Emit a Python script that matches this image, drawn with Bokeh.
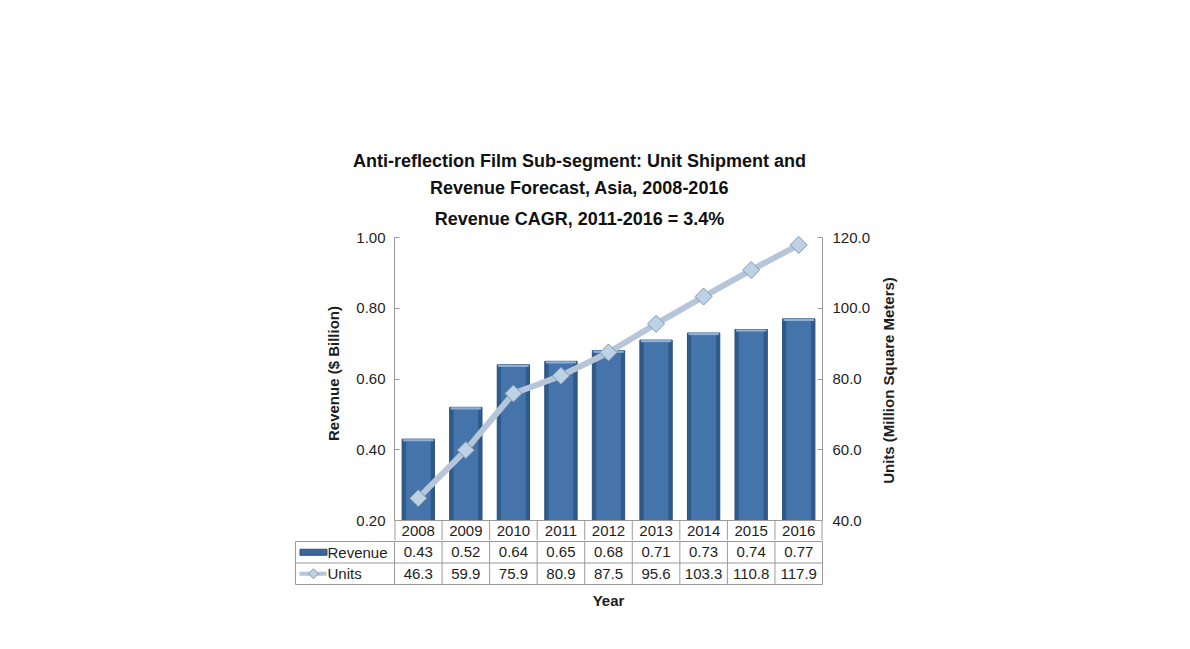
import math
from bokeh.plotting import figure
from bokeh.models import Range1d, LinearAxis, FixedTicker, NumeralTickFormatter
from bokeh.layouts import column, row
from bokeh.embed import file_html
from bokeh.resources import INLINE
from bokeh.core.properties import value

# ---------------- data ----------------
years = ["2008", "2009", "2010", "2011", "2012", "2013", "2014", "2015", "2016"]
revenue = [0.43, 0.52, 0.64, 0.65, 0.68, 0.71, 0.73, 0.74, 0.77]
units = [46.3, 59.9, 75.9, 80.9, 87.5, 95.6, 103.3, 110.8, 117.9]
rev_ticks = [0.20, 0.40, 0.60, 0.80, 1.00]
unit_ticks = [40, 60, 80, 100, 120]
series_names = ["Revenue", "Units"]
title_lines = ["Anti-reflection Film Sub-segment: Unit Shipment and",
               "Revenue Forecast, Asia, 2008-2016"]
subtitle = "Revenue CAGR, 2011-2016 = 3.4%"
x_title = "Year"
y_title_left = "Revenue ($ Billion)"
y_title_right = "Units (Million Square Meters)"

# ---------------- layout constants (px) ----------------
W, H = 1190, 649
MW = 878                   # width of the main column
TOPH = 200                 # height of the title strip
FL, FR = 394, 822          # plot frame left / right
PT = 206                   # top of main plot frame
FT, AXB = 237, 520         # top of value axis, bottom of value axis
YROW = 20                  # year row height
FB = AXB + YROW            # bottom of main figure
LEG = 99                   # legend column width in table
PAD = 2
ROWH = 21.5                # table row height
TX = 579                   # horizontal centre of the titles
FONT = "Liberation Sans"
FS = "15px"
GRID = "#9a9a9a"
TXT = "#1e1e1e"

n = len(years)
xs = [i + 0.5 for i in range(n)]
ppx = (FR - FL) / n
ppy = (AXB - FT) / (rev_ticks[-1] - rev_ticks[0])
ppu = (AXB - FT) / (unit_ticks[-1] - unit_ticks[0])
rev_lo = rev_ticks[0] - YROW / ppy
rev_hi = rev_ticks[-1] + (FT - PT) / ppy
u_lo = unit_ticks[0] - YROW / ppu
u_hi = unit_ticks[-1] + (FT - PT) / ppu

def blank(fig):
    for g in fig.grid:
        g.visible = False
    try:
        fig.frame_align = False
    except Exception:
        pass

# ---------------- title strip ----------------
tf = figure(width=MW, height=TOPH, x_range=Range1d(0, MW), y_range=Range1d(TOPH, 0),
            x_axis_location=None, y_axis_location=None,
            output_backend="svg", toolbar_location=None,
            min_border=0, outline_line_color=None,
            background_fill_color="white", border_fill_color="white")
blank(tf)
tf.text(x=[TX, TX], y=[160, 187], text=title_lines,
        text_align="center", text_baseline="middle", text_font=value(FONT),
        text_font_size="18px", text_font_style="bold", text_color="#111111")

# ---------------- main chart ----------------
p = figure(width=MW, height=FB - TOPH, x_range=Range1d(0, n),
           y_range=Range1d(rev_lo, rev_hi),
           x_axis_location=None, y_axis_location=None,
           output_backend="svg", toolbar_location=None,
           min_border_left=FL, min_border_right=MW - FR,
           min_border_top=PT - TOPH, min_border_bottom=0,
           outline_line_color=None, background_fill_color="white",
           border_fill_color="white")
blank(p)
p.extra_y_ranges = {"units": Range1d(u_lo, u_hi)}

def style_axis(ax):
    ax.axis_line_color = GRID
    ax.major_tick_line_color = GRID
    ax.major_tick_in = 5
    ax.major_tick_out = 0
    ax.minor_tick_line_color = None
    ax.major_label_text_font = FONT
    ax.major_label_text_font_size = FS
    ax.major_label_text_color = TXT
    ax.axis_label_text_font = FONT
    ax.axis_label_text_font_size = "15px"
    ax.axis_label_text_font_style = "bold"
    ax.axis_label_text_color = TXT

ya = LinearAxis(bounds=(rev_ticks[0], rev_ticks[-1]), ticker=FixedTicker(ticks=rev_ticks),
                formatter=NumeralTickFormatter(format="0.00"), axis_label=y_title_left)
style_axis(ya)
ya.major_label_standoff = 9
ya.axis_label_standoff = 11
p.add_layout(ya, "left")

yb = LinearAxis(y_range_name="units", bounds=(unit_ticks[0], unit_ticks[-1]),
                ticker=FixedTicker(ticks=unit_ticks),
                formatter=NumeralTickFormatter(format="0.0"))
style_axis(yb)
yb.major_label_standoff = 10
p.add_layout(yb, "right")

# subtitle (inside the frame area above the value axis)
p.text(x=[(TX - FL) / ppx], y=[rev_ticks[-1] + (FT - 218) / ppy], text=[subtitle],
       text_align="center", text_baseline="middle", text_font=value(FONT),
       text_font_size="18px", text_font_style="bold", text_color="#111111")

# bars with a little shading
p.vbar(x=xs, top=revenue, bottom=rev_ticks[0], width=0.68,
       fill_color="#2f5a8c", line_color="#2a4f7c", line_width=1)
p.vbar(x=xs, top=revenue, bottom=rev_ticks[0], width=0.52,
       fill_color="#4574ab", line_color=None)
p.vbar(x=xs, top=revenue, bottom=[r - 0.006 for r in revenue], width=0.64,
       fill_color="#8fb0d6", line_color=None)

# units line
p.line(x=xs, y=units, y_range_name="units", line_color="#b6c5d8", line_width=6)
p.scatter(x=xs, y=units, y_range_name="units", marker="square", angle=math.pi / 4,
          size=12, fill_color="#bed2e6", line_color="#8197b0", line_width=1)

# year row (top row of the data table)
p.segment(x0=[0], y0=[rev_ticks[0]], x1=[n], y1=[rev_ticks[0]], line_color=GRID, line_width=1)
p.segment(x0=list(range(1, n)), y0=[rev_lo] * (n - 1), x1=list(range(1, n)),
          y1=[rev_ticks[0]] * (n - 1), line_color=GRID, line_width=1)
p.segment(x0=[0, n], y0=[rev_lo, rev_lo], x1=[0, n], y1=[rev_ticks[0], rev_ticks[0]],
          line_color=GRID, line_width=2)
p.text(x=xs, y=[rev_ticks[0] - YROW / 2 / ppy] * n, text=years,
       text_align="center", text_baseline="middle", text_font=value(FONT),
       text_font_size=FS, text_color=TXT)

# ---------------- data table ----------------
TBH = H - FB
y_top = 2 + 1 / ROWH
tb = figure(width=MW, height=TBH,
            x_range=Range1d(-(LEG + PAD) / ppx, n + PAD / ppx),
            y_range=Range1d(y_top - TBH / ROWH, y_top),
            x_axis_location=None, y_axis_location=None,
            output_backend="svg", toolbar_location=None,
            min_border_left=FL - LEG - PAD, min_border_right=MW - FR - PAD,
            min_border_top=0, min_border_bottom=0,
            outline_line_color=None, background_fill_color="white",
            border_fill_color="white")
blank(tb)

xl = -LEG / ppx
tb.segment(x0=[xl] * 3, y0=[2, 1, 0], x1=[n] * 3, y1=[2, 1, 0], line_color=GRID, line_width=1)
vx = [xl] + list(range(0, n + 1))
tb.segment(x0=vx, y0=[0] * len(vx), x1=vx, y1=[2] * len(vx), line_color=GRID, line_width=1)

rev_txt = ["%.2f" % v for v in revenue]
unit_txt = ["%.1f" % v for v in units]
tb.text(x=xs, y=[1.5] * n, text=rev_txt, text_align="center", text_baseline="middle",
        text_font=value(FONT), text_font_size=FS, text_color=TXT)
tb.text(x=xs, y=[0.5] * n, text=unit_txt, text_align="center", text_baseline="middle",
        text_font=value(FONT), text_font_size=FS, text_color=TXT)

# legend keys
kx = (-LEG + 18) / ppx
tb.rect(x=[kx], y=[1.5], width=27, height=6, width_units="screen", height_units="screen",
        fill_color="#3b679c", line_color="#2a4f7c")
tb.segment(x0=[(-LEG + 4) / ppx], y0=[0.5], x1=[(-LEG + 31) / ppx], y1=[0.5],
           line_color="#b6c5d8", line_width=4)
tb.scatter(x=[kx], y=[0.5], marker="square", angle=math.pi / 4, size=7,
           fill_color="#bed2e6", line_color="#8197b0", line_width=1)
tb.text(x=[(-LEG + 32) / ppx] * 2, y=[1.5, 0.5], text=series_names, text_align="left",
        text_baseline="middle", text_font=value(FONT), text_font_size=FS, text_color=TXT)

# axis title "Year"
tb.text(x=[n / 2], y=[-(600 - 584) / ROWH], text=[x_title], text_align="center",
        text_baseline="middle", text_font=value(FONT), text_font_size="15px",
        text_font_style="bold", text_color=TXT)

# ---------------- right axis title strip ----------------
RW = W - MW
rf = figure(width=RW, height=H, x_range=Range1d(0, RW), y_range=Range1d(H, 0),
            x_axis_location=None, y_axis_location=None,
            output_backend="svg", toolbar_location=None,
            min_border=0, outline_line_color=None,
            background_fill_color="white", border_fill_color="white")
blank(rf)
rf.text(x=[887.5 - MW], y=[380], text=[y_title_right], angle=math.pi / 2,
        text_align="center", text_baseline="middle", text_font=value(FONT),
        text_font_size="15px", text_font_style="bold", text_color=TXT)

layout = row(column(tf, p, tb, spacing=0), rf, spacing=0)
open("out.html", "w").write(file_html(layout, INLINE))
